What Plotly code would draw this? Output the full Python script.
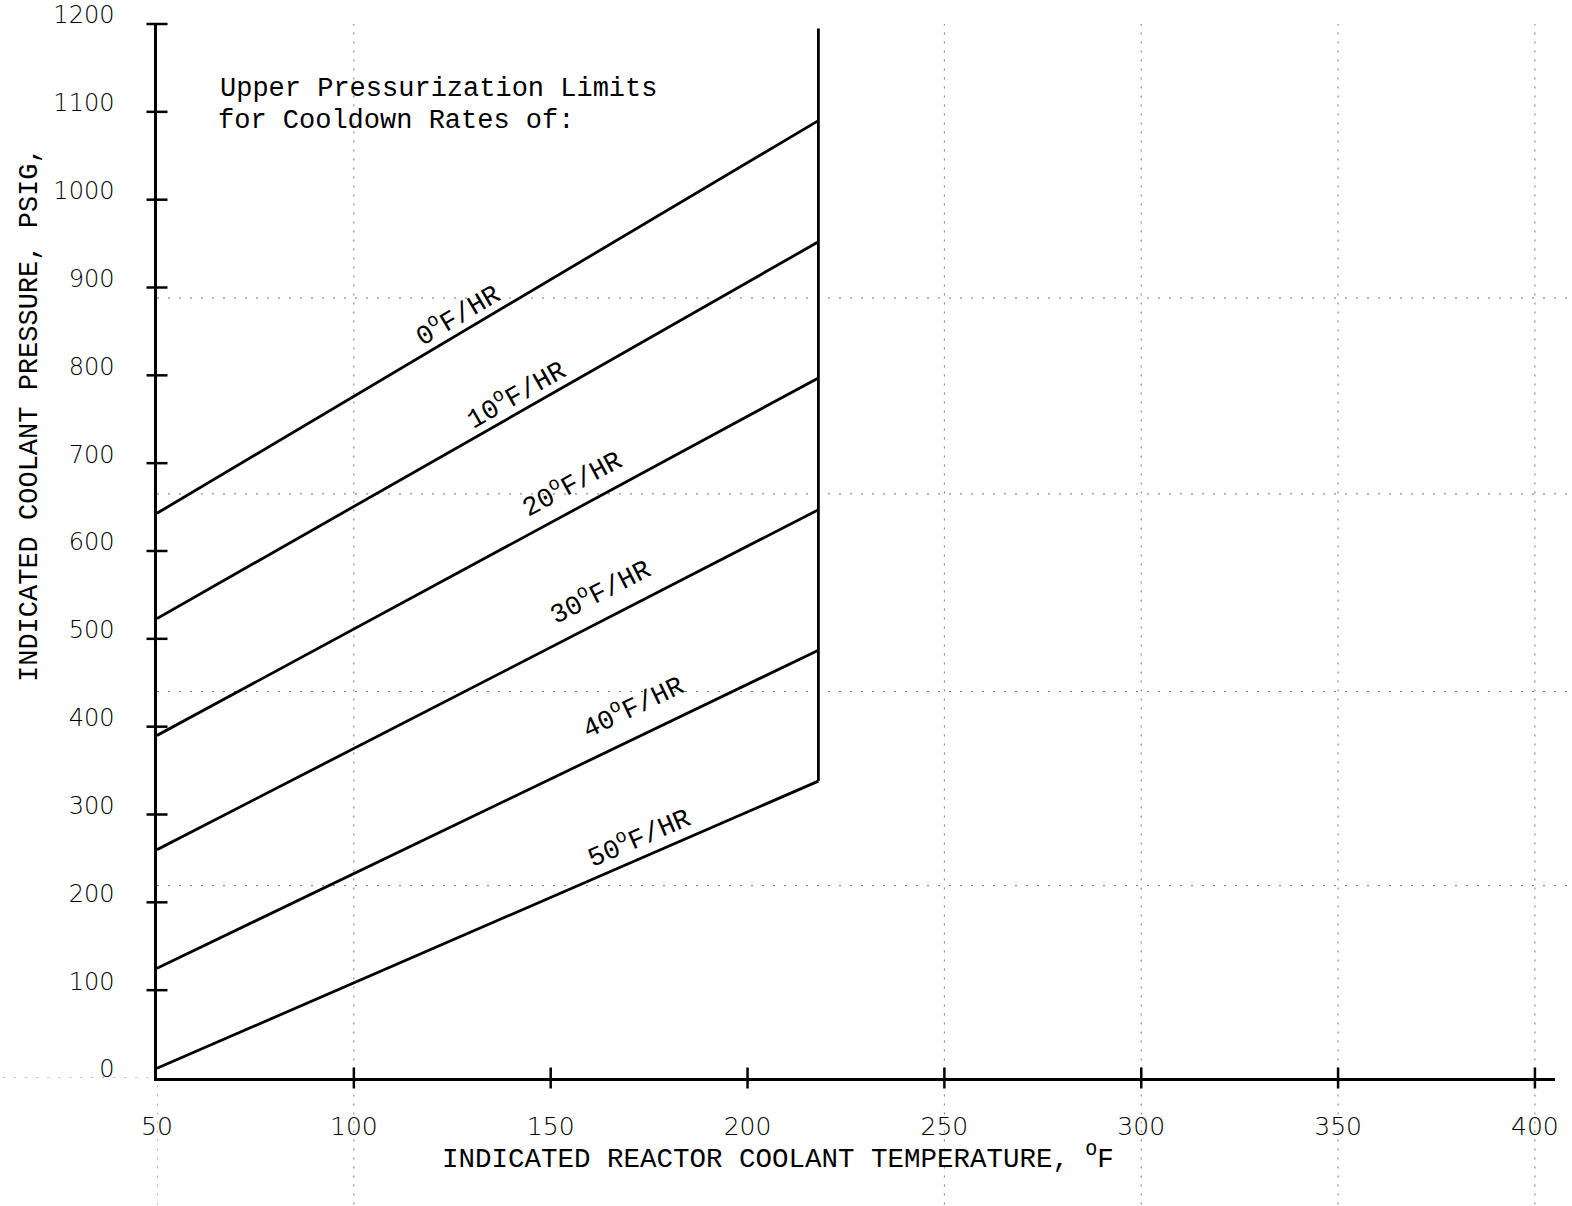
import math
import plotly.graph_objects as go

# ---------------- data ----------------
rates = ["0", "10", "20", "30", "40", "50"]           # cooldown rate, degF/hr
t_start = 50                                          # degF
t_end = 218                                           # degF (limit line)
p_start = [643, 523, 390, 260, 125, 11]               # psig at 50 degF
p_end = [1090, 952, 797, 647, 487, 338]               # psig at 218 degF
limit_top = 1195                                      # psig, top of vertical limit

x_ticks = [50, 100, 150, 200, 250, 300, 350, 400]
y_ticks = [0, 100, 200, 300, 400, 500, 600, 700, 800, 900, 1000, 1100, 1200]

grid_x = [100, 250, 300, 350, 400]                    # faint dotted grid (scan)
grid_y = [219, 440, 665, 888]

label_t = [126.1, 141.1, 155.3, 162.5, 170.9, 172.3]  # where each rate label sits
label_shift = [21, 21, 29, 32, 34, 23]

# ---------------- layout geometry ----------------
W, H = 1572, 1206
ML, MR, MT, MB = 157, 17, 24, 128
X_RANGE = [50, 405.1]
Y_RANGE = [0, 1200]
PW = W - ML - MR
PH = H - MT - MB
px_x = PW / (X_RANGE[1] - X_RANGE[0])
px_y = PH / (Y_RANGE[1] - Y_RANGE[0])


def page_x(px):
    """window pixel -> paper x"""
    return (px - ML) / PW


def page_y(py):
    """window pixel -> paper y"""
    return (H - MB - py) / PH


MONO = "Liberation Mono, Courier New, monospace"
SANS = "DejaVu Sans, Verdana, sans-serif"

fig = go.Figure()

# faint dotted grid
shapes = []
for gx in grid_x:
    shapes.append(dict(type="line", xref="x", yref="paper", x0=gx, x1=gx, y0=-0.12, y1=1.0,
                       line=dict(color="#777", width=1, dash="2px,7px"), layer="below"))
shapes.append(dict(type="line", xref="x", yref="paper", x0=50, x1=50, y0=-0.12, y1=0,
                   line=dict(color="#777", width=1, dash="2px,7px"), layer="below"))
for gy in grid_y:
    shapes.append(dict(type="line", xref="paper", yref="y", x0=0, x1=1.01, y0=gy, y1=gy,
                       line=dict(color="#777", width=1, dash="2px,9px"), layer="below"))
shapes.append(dict(type="line", xref="paper", yref="y", x0=-0.11, x1=0, y0=0, y1=0,
                   line=dict(color="#777", width=1, dash="2px,9px"), layer="below"))

# limit curves
for r, ps, pe in zip(rates, p_start, p_end):
    fig.add_trace(go.Scatter(x=[t_start, t_end], y=[ps, pe], mode="lines",
                             line=dict(color="black", width=2.8), showlegend=False,
                             hoverinfo="skip"))
# vertical limit at t_end
fig.add_trace(go.Scatter(x=[t_end, t_end], y=[min(p_end), limit_top], mode="lines",
                         line=dict(color="black", width=2.8), showlegend=False,
                         hoverinfo="skip"))

# cross tick marks
fig.add_trace(go.Scatter(x=x_ticks[1:], y=[0] * (len(x_ticks) - 1), mode="markers",
                         marker=dict(symbol="line-ns", size=15,
                                     line=dict(color="black", width=2.5)),
                         cliponaxis=False, showlegend=False, hoverinfo="skip"))
fig.add_trace(go.Scatter(x=[50] * (len(y_ticks) - 1), y=y_ticks[1:], mode="markers",
                         marker=dict(symbol="line-ew", size=15,
                                     line=dict(color="black", width=2.5)),
                         cliponaxis=False, showlegend=False, hoverinfo="skip"))

annotations = []
# rate labels along the curves
for r, ps, pe, lt, sh in zip(rates, p_start, p_end, label_t, label_shift):
    slope = (pe - ps) / (t_end - t_start)
    ly = ps + slope * (lt - t_start)
    ang = -math.degrees(math.atan(slope * px_y / px_x))
    annotations.append(dict(x=lt, y=ly, xref="x", yref="y", yshift=sh,
                            text=f"{r}<sup>o</sup>F/HR", showarrow=False, textangle=ang,
                            font=dict(family=MONO, size=27, color="black")))

# heading text
annotations.append(dict(x=page_x(218), y=page_y(89), xref="paper", yref="paper",
                        xanchor="left", yanchor="middle",
                        text="Upper Pressurization Limits", showarrow=False,
                        font=dict(family=MONO, size=27, color="black")))
annotations.append(dict(x=page_x(216), y=page_y(121), xref="paper", yref="paper",
                        xanchor="left", yanchor="middle",
                        text="for Cooldown Rates of:", showarrow=False,
                        font=dict(family=MONO, size=27, color="black")))

# axis titles
annotations.append(dict(x=page_x(778), y=page_y(1157), xref="paper", yref="paper",
                        xanchor="center", yanchor="middle",
                        text="INDICATED REACTOR COOLANT TEMPERATURE, <sup>O</sup>F",
                        showarrow=False, font=dict(family=MONO, size=27.5, color="black")))
annotations.append(dict(x=page_x(30), y=page_y(415), xref="paper", yref="paper",
                        xanchor="center", yanchor="middle", textangle=-90,
                        text="INDICATED COOLANT PRESSURE, PSIG,", showarrow=False,
                        font=dict(family=MONO, size=27, color="black")))

fig.update_layout(
    width=W, height=H,
    margin=dict(l=ML, r=MR, t=MT, b=MB, pad=0, autoexpand=False),
    paper_bgcolor="white", plot_bgcolor="white",
    shapes=shapes, annotations=annotations,
    showlegend=False,
    xaxis=dict(range=X_RANGE, tickvals=x_ticks, ticktext=[str(v) for v in x_ticks],
               showgrid=False, zeroline=False, showline=True, linecolor="black",
               linewidth=2.5, ticks="", ticklabelstandoff=24, automargin=False,
               tickfont=dict(family=SANS, size=25, color="black", weight=300)),
    yaxis=dict(range=Y_RANGE, tickvals=y_ticks, ticktext=[str(v) for v in y_ticks],
               showgrid=False, zeroline=False, showline=True, linecolor="black",
               linewidth=2.5, ticks="", ticklabelstandoff=35, ticklabelshift=-9,
               ticklabeloverflow="allow", automargin=False,
               tickfont=dict(family=SANS, size=24, color="black", weight=300)),
)

# let the figure fill the window exactly (no default 8px body margin)
fig.write_html("out.html",
               config={"displayModeBar": False},
               post_script="document.body.style.margin='0';"
                           "document.body.style.overflow='hidden';")
